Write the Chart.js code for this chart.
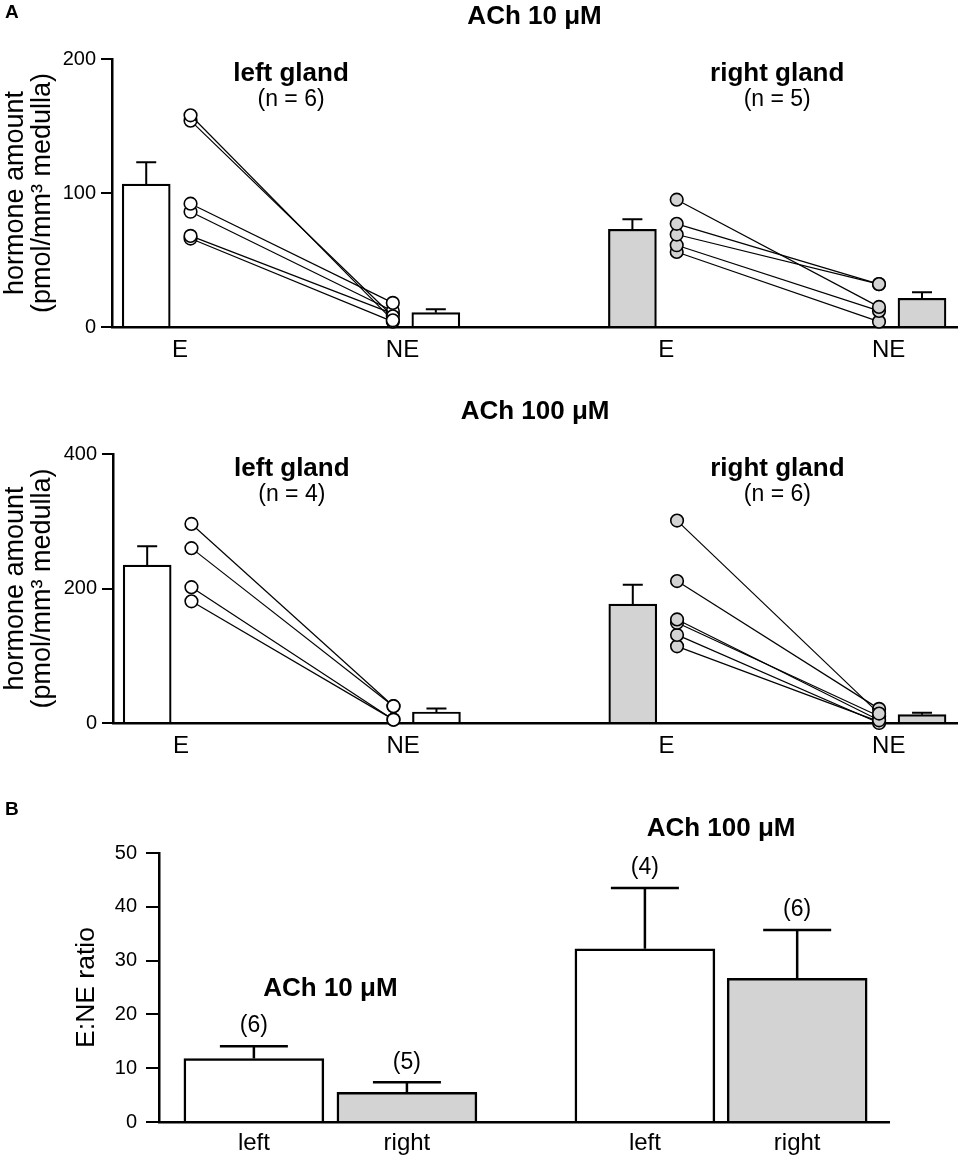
<!DOCTYPE html>
<html>
<head>
<meta charset="utf-8">
<script src="https://cdn.jsdelivr.net/npm/chart.js@4.4.1/dist/chart.umd.min.js"></script>
<style>
  body { margin: 0; background: #fff; }
  #fig { position: relative; width: 965px; height: 1162px; }
  #fig canvas { position: absolute; left: 0; }
</style>
</head>
<body>
<div id="fig">
  <canvas id="panel10" width="965" height="380" style="top:0px"></canvas>
  <canvas id="panel100" width="965" height="400" style="top:380px"></canvas>
  <canvas id="panelB" width="965" height="382" style="top:780px"></canvas>
</div>
<script>
// ---------- data ----------
const hormoneLabels = ['E', 'NE', 'E', 'NE'];
const ratioLabels = ['left', 'right', 'left', 'right'];

// ACh 10 uM : each medulla, E paired with NE
const ach10LeftE   = [158, 154, 92, 86, 68, 66];
const ach10LeftNE  = [5, 8, 18, 12, 10, 4];
const ach10RightE  = [95, 77, 69, 61, 56];
const ach10RightNE = [15, 32, 32, 12, 4];
// bars: left E, left NE, right E, right NE
const ach10Mean = [106.7, 10.7, 72.9, 21.4];
const ach10Sem  = [16.3, 2.5, 7.5, 4.5];

// ACh 100 uM
const ach100LeftE   = [296, 260, 202, 181];
const ach100LeftNE  = [25, 25, 5, 5];
const ach100RightE  = [301, 211, 154, 149, 131, 114];
const ach100RightNE = [14, 21, 4, 10, 0, 2];
const ach100Mean = [234.8, 16.4, 176.7, 12.4];
const ach100Sem  = [28, 5, 29, 3];

// E:NE ratio, left/right at 10 and 100 uM
const ratioMean = [11.8, 5.5, 32.2, 26.7];
const ratioSem  = [2.3, 1.9, 11.3, 9.0];
const ratioN    = ['(6)', '(5)', '(4)', '(6)'];

// ---------- layout / style ----------
const FONT = '"Liberation Sans", Arial, Helvetica, sans-serif';
const WHITE = '#ffffff';
const GREY = '#d3d3d3';

// slots along the x axis of panel A (one gland block, then shifted for the right gland)
const SLOT = { Ebar: 0.78, Epts: 1.79, NEpts: 6.4, NEbar: 7.38, Elabel: 1.55, NElabel: 6.62, title: 4.08 };
const GLAND_SHIFT = 11.08;
const A_XMAX = 19.26;

// slots for panel B
const B_SLOT = [0.62, 1.62, 3.175, 4.17];
const B_XMAX = 4.77;

const errorBars = {
  id: 'errorBars',
  afterDatasetsDraw(chart, args, o) {
    const ctx = chart.ctx;
    const y = chart.scales.y;
    chart.data.datasets.forEach((ds, di) => {
      if (!ds.errors) return;
      const meta = chart.getDatasetMeta(di);
      ctx.save();
      ctx.strokeStyle = '#000';
      ctx.lineWidth = o.width;
      meta.data.forEach((bar, i) => {
        const top = y.getPixelForValue(ds.data[i].y + ds.errors[i]);
        ctx.beginPath();
        ctx.moveTo(bar.x, bar.y);
        ctx.lineTo(bar.x, top);
        ctx.moveTo(bar.x - o.cap / 2, top);
        ctx.lineTo(bar.x + o.cap / 2, top);
        ctx.stroke();
        if (ds.notes) {
          ctx.fillStyle = '#000';
          ctx.font = '23px ' + FONT;
          ctx.textAlign = 'center';
          ctx.textBaseline = 'middle';
          ctx.fillText(ds.notes[i], bar.x, top - 20);
        }
      });
      ctx.restore();
    });
  }
};

const panelText = {
  id: 'panelText',
  afterDraw(chart, args, o) {
    const ctx = chart.ctx;
    const area = chart.chartArea;
    o.items.forEach(t => {
      let x, y;
      if (t.px !== undefined) x = t.px;
      else if (t.x === 'mid') x = (area.left + area.right) / 2;
      else x = chart.scales.x.getPixelForValue(t.x);
      if (t.py !== undefined) y = t.py;
      else if (t.dy !== undefined) y = area.top + t.dy;
      else y = chart.scales.y.getPixelForValue(t.y);
      ctx.save();
      ctx.fillStyle = '#000';
      ctx.font = t.font;
      ctx.textAlign = t.align || 'center';
      ctx.textBaseline = t.baseline || 'alphabetic';
      ctx.fillText(t.text, x, y);
      ctx.restore();
    });
  }
};

function pairLine(e, ne, shift, fill) {
  return {
    type: 'line',
    data: [{ x: SLOT.Epts + shift, y: e }, { x: SLOT.NEpts + shift, y: ne }],
    borderColor: '#000',
    borderWidth: 1.2,
    pointRadius: 6.3,
    pointBackgroundColor: fill,
    pointBorderColor: '#000',
    pointBorderWidth: 1.6,
    clip: false,
    order: 1
  };
}

function hormonePanel(id, opt) {
  const barX = [SLOT.Ebar, SLOT.NEbar, SLOT.Ebar + GLAND_SHIFT, SLOT.NEbar + GLAND_SHIFT];
  const tickX = [SLOT.Elabel, SLOT.NElabel, SLOT.Elabel + GLAND_SHIFT, SLOT.NElabel + GLAND_SHIFT];

  const datasets = [{
    type: 'bar',
    data: opt.mean.map((v, i) => ({ x: barX[i], y: v })),
    errors: opt.sem,
    backgroundColor: [WHITE, WHITE, GREY, GREY],
    borderColor: '#000',
    borderWidth: 2.2,
    borderSkipped: 'start',
    barThickness: 48,
    clip: false,
    order: 2
  }];
  opt.leftE.forEach((e, i) => datasets.push(pairLine(e, opt.leftNE[i], 0, WHITE)));
  opt.rightE.forEach((e, i) => datasets.push(pairLine(e, opt.rightNE[i], GLAND_SHIFT, GREY)));

  return new Chart(document.getElementById(id), {
    type: 'bar',
    data: { datasets: datasets },
    plugins: [errorBars, panelText],
    options: {
      responsive: false,
      animation: false,
      devicePixelRatio: 1,
      events: [],
      layout: { padding: { top: opt.top, right: 5, left: 0, bottom: 0 } },
      plugins: {
        legend: { display: false },
        tooltip: { enabled: false },
        errorBars: { width: 2, cap: 20 },
        panelText: { items: opt.texts }
      },
      scales: {
        x: {
          type: 'linear',
          min: 0,
          max: A_XMAX,
          offset: false,
          afterFit(s) { s.height = opt.xHeight; },
          afterBuildTicks(s) { s.ticks = tickX.map(v => ({ value: v })); },
          ticks: {
            callback: (v, i) => hormoneLabels[i],
            autoSkip: false,
            maxRotation: 0,
            color: '#000',
            padding: 9,
            font: { family: FONT, size: 24 }
          },
          grid: { display: false, drawTicks: false },
          border: { color: '#000', width: 2.5 }
        },
        y: {
          min: 0,
          max: opt.yMax,
          afterFit(s) { s.width = opt.yWidth; },
          ticks: { stepSize: opt.step, color: '#000', padding: 5, font: { family: FONT, size: 20 } },
          grid: { drawOnChartArea: false, drawTicks: true, tickLength: 11, color: '#000', lineWidth: 2 },
          border: { color: '#000', width: 2.5 },
          title: {
            display: true,
            text: ['hormone amount', '(pmol/mm\u00b3 medulla)'],
            color: '#000',
            padding: { top: 2, bottom: 0 },
            font: { family: FONT, size: 27, lineHeight: 1.0 }
          }
        }
      }
    }
  });
}

function glandTexts(title, nLeft, nRight) {
  return [
    { text: title, x: 'mid', dy: -35, font: 'bold 26px ' + FONT },
    { text: 'left gland', x: SLOT.title, dy: 22, font: 'bold 26px ' + FONT },
    { text: nLeft, x: SLOT.title, dy: 47, font: '23px ' + FONT },
    { text: 'right gland', x: SLOT.title + GLAND_SHIFT, dy: 22, font: 'bold 26px ' + FONT },
    { text: nRight, x: SLOT.title + GLAND_SHIFT, dy: 47, font: '23px ' + FONT }
  ];
}

hormonePanel('panel10', {
  leftE: ach10LeftE, leftNE: ach10LeftNE, rightE: ach10RightE, rightNE: ach10RightNE,
  mean: ach10Mean, sem: ach10Sem,
  yMax: 200, step: 100, top: 59, xHeight: 53, yWidth: 112,
  texts: [{ text: 'A', px: 5, py: 18, align: 'left', font: 'bold 19px ' + FONT }]
    .concat(glandTexts('ACh 10 \u03bcM', '(n = 6)', '(n = 5)'))
});

hormonePanel('panel100', {
  leftE: ach100LeftE, leftNE: ach100LeftNE, rightE: ach100RightE, rightNE: ach100RightNE,
  mean: ach100Mean, sem: ach100Sem,
  yMax: 400, step: 200, top: 74, xHeight: 57, yWidth: 113,
  texts: glandTexts('ACh 100 \u03bcM', '(n = 4)', '(n = 6)')
});

// ---------- panel B ----------
new Chart(document.getElementById('panelB'), {
  type: 'bar',
  data: {
    datasets: [{
      data: ratioMean.map((v, i) => ({ x: B_SLOT[i], y: v })),
      errors: ratioSem,
      notes: ratioN,
      backgroundColor: [WHITE, GREY, WHITE, GREY],
      borderColor: '#000',
      borderWidth: 2.5,
      borderSkipped: 'start',
      barThickness: 140
    }]
  },
  plugins: [errorBars, panelText],
  options: {
    responsive: false,
    animation: false,
    devicePixelRatio: 1,
    events: [],
    layout: { padding: { top: 73, right: 76, left: 0, bottom: 0 } },
    plugins: {
      legend: { display: false },
      tooltip: { enabled: false },
      errorBars: { width: 2.5, cap: 68 },
      panelText: {
        items: [
          { text: 'B', px: 5, py: 35, align: 'left', font: 'bold 19px ' + FONT },
          { text: 'ACh 10 \u03bcM', x: (B_SLOT[0] + B_SLOT[1]) / 2, y: 24.7, baseline: 'middle', font: 'bold 26px ' + FONT },
          { text: 'ACh 100 \u03bcM', x: (B_SLOT[2] + B_SLOT[3]) / 2, y: 54.5, baseline: 'middle', font: 'bold 26px ' + FONT }
        ]
      }
    },
    scales: {
      x: {
        type: 'linear',
        min: 0,
        max: B_XMAX,
        offset: false,
        afterFit(s) { s.height = 40; },
        afterBuildTicks(s) { s.ticks = B_SLOT.map(v => ({ value: v })); },
        ticks: {
          callback: (v, i) => ratioLabels[i],
          autoSkip: false,
          maxRotation: 0,
          color: '#000',
          padding: 7,
          font: { family: FONT, size: 24 }
        },
        grid: { display: false, drawTicks: false },
        border: { color: '#000', width: 2.5 }
      },
      y: {
        min: 0,
        max: 50,
        afterFit(s) { s.width = 159; },
        ticks: { stepSize: 10, color: '#000', padding: 9, font: { family: FONT, size: 20 } },
        grid: { drawOnChartArea: false, drawTicks: true, tickLength: 13, color: '#000', lineWidth: 2 },
        border: { color: '#000', width: 2.5 },
        title: {
          display: true,
          text: 'E:NE ratio',
          color: '#000',
          padding: { top: 71, bottom: 0 },
          font: { family: FONT, size: 26.5, lineHeight: 1.2 }
        }
      }
    }
  }
});
</script>
</body>
</html>
